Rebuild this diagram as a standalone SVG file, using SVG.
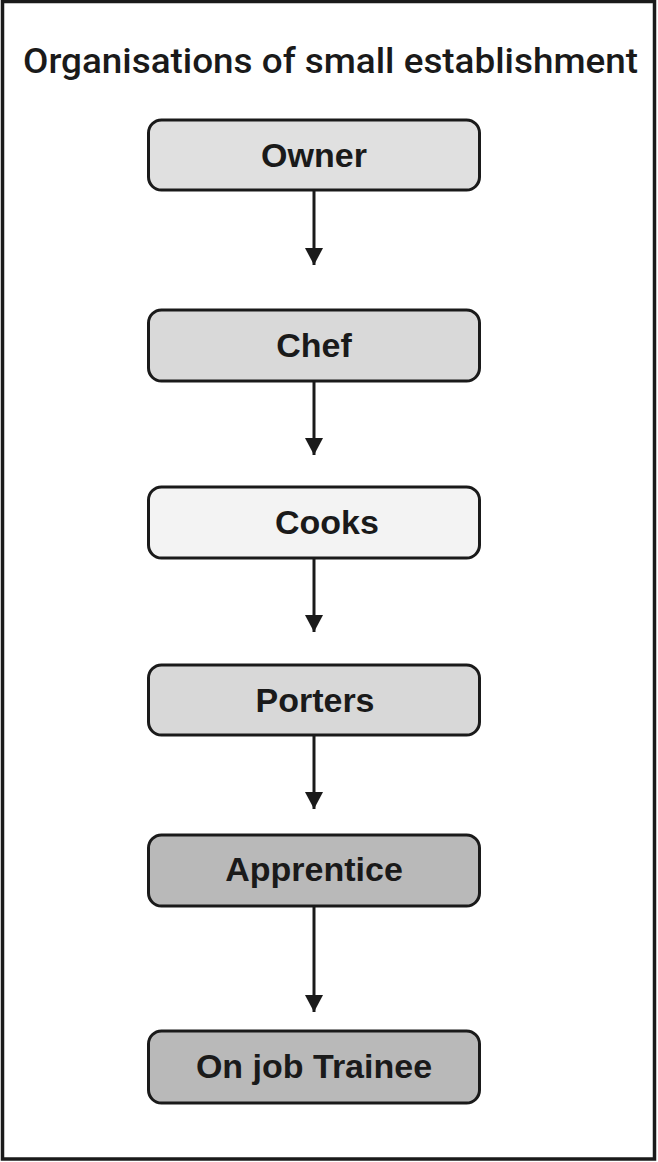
<svg xmlns="http://www.w3.org/2000/svg" width="658" height="1162" viewBox="0 0 658 1162">
<style>
.box{stroke:#1a1a1a;stroke-width:3}
.lbl{font-family:"Liberation Sans",Arial,sans-serif;font-weight:bold;font-size:34px;fill:#1a1a1a;text-anchor:middle}
.title{font-family:Roboto,"Liberation Sans",sans-serif;font-weight:500;font-size:35px;fill:#1a1a1a}
.conn{stroke:#1a1a1a;stroke-width:3;fill:none}
</style>
<defs>
<marker id="arr" markerWidth="20" markerHeight="20" refX="17" refY="10" orient="auto" markerUnits="userSpaceOnUse">
<path d="M0,1 L17,10 L0,19 Z" fill="#1a1a1a"/>
</marker>
</defs>
<rect x="0" y="0" width="658" height="1162" fill="#ffffff"/>
<rect x="2.5" y="1.5" width="652" height="1157.5" fill="none" stroke="#1a1a1a" stroke-width="3.5"/>
<text class="title" x="23" y="73" textLength="615" lengthAdjust="spacingAndGlyphs">Organisations of small establishment</text>
<g id="connectors">
<line class="conn" x1="314" y1="191" x2="314" y2="265" marker-end="url(#arr)"/>
<line class="conn" x1="314" y1="382" x2="314" y2="455" marker-end="url(#arr)"/>
<line class="conn" x1="314" y1="558" x2="314" y2="632" marker-end="url(#arr)"/>
<line class="conn" x1="314" y1="736" x2="314" y2="809" marker-end="url(#arr)"/>
<line class="conn" x1="314" y1="902" x2="314" y2="1012" marker-end="url(#arr)"/>
</g>
<g id="owner">
<rect class="box" x="148.5" y="120" width="331" height="70" rx="13" fill="#e0e0e0"/>
<text class="lbl" x="314" y="167">Owner</text>
</g>
<g id="chef">
<rect class="box" x="148.5" y="310" width="331" height="71" rx="13" fill="#d9d9d9"/>
<text class="lbl" x="314" y="357">Chef</text>
</g>
<g id="cooks">
<rect class="box" x="148.5" y="487" width="331" height="71" rx="13" fill="#f3f3f3"/>
<text class="lbl" x="327" y="534">Cooks</text>
</g>
<g id="porters">
<rect class="box" x="148.5" y="665" width="331" height="70" rx="13" fill="#d8d8d8"/>
<text class="lbl" x="315" y="712">Porters</text>
</g>
<g id="apprentice">
<rect class="box" x="148.5" y="835" width="331" height="71" rx="13" fill="#b9b9b9"/>
<text class="lbl" x="314" y="881">Apprentice</text>
</g>
<g id="trainee">
<rect class="box" x="148.5" y="1031" width="331" height="72" rx="13" fill="#b9b9b9"/>
<text class="lbl" x="314" y="1078">On job Trainee</text>
</g>
</svg>
